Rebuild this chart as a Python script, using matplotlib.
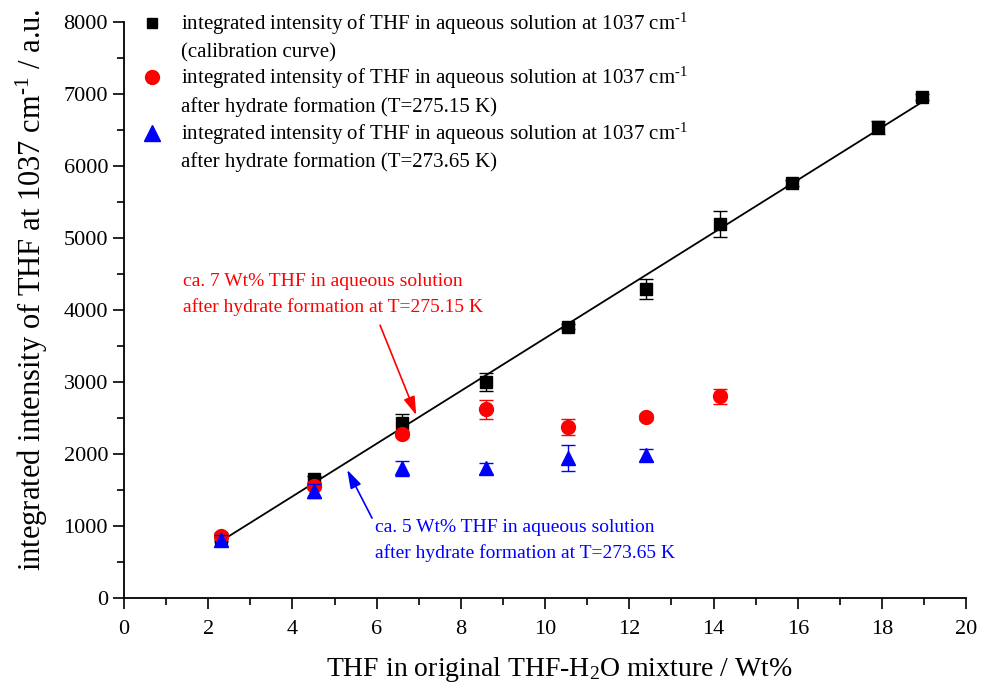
import numpy as np
import matplotlib
matplotlib.use("Agg")
import matplotlib.pyplot as plt
from matplotlib.ticker import MultipleLocator
from matplotlib.lines import Line2D
from matplotlib.legend_handler import HandlerLine2D

plt.rcParams['font.family'] = ['Liberation Serif', 'DejaVu Serif']
plt.rcParams['mathtext.fontset'] = 'custom'
plt.rcParams['mathtext.rm'] = 'Liberation Serif'
plt.rcParams['mathtext.it'] = 'Liberation Serif:italic'

# THF content of the original mixture (Wt%)
thf_wt = [2.3, 4.5, 6.6, 8.6, 10.55, 12.4, 14.15, 15.85, 17.9, 18.95]

# calibration curve
calib = [830, 1650, 2430, 3000, 3770, 4290, 5190, 5760, 6540, 6960]
calib_err = [40, 50, 130, 120, 40, 140, 180, 40, 90, 40]

# after hydrate formation, T=275.15 K
thf_wt_275 = [2.3, 4.5, 6.6, 8.6, 10.55, 12.4, 14.15]
hyd_275 = [860, 1560, 2280, 2620, 2370, 2510, 2800]
hyd_275_err = [40, 50, 40, 130, 110, 40, 100]

# after hydrate formation, T=273.65 K
thf_wt_273 = [2.3, 4.5, 6.6, 8.6, 10.55, 12.4]
hyd_273 = [800, 1490, 1800, 1800, 1940, 1990]
hyd_273_err = [80, 100, 100, 80, 180, 80]

sup = r'$^{\text{-1}}$'
lab = 'integrated intensity of THF in aqueous solution at 1037 cm' + sup


class FirstLineHandler(HandlerLine2D):
    # put the legend marker next to the first line of a two-line label
    def create_artists(self, legend, orig_handle, xdescent, ydescent,
                       width, height, fontsize, trans):
        arts = super().create_artists(legend, orig_handle, xdescent, ydescent,
                                      width, height, fontsize, trans)
        for a in arts:
            a.set_ydata(np.asarray(a.get_ydata()) + 0.65 * fontsize)
        return arts


fig = plt.figure(figsize=(9.84, 6.91), dpi=100)
ax = fig.add_axes([0.126, 0.1346, 0.856, 0.8334])

# linear fit of the calibration points
coef = np.polyfit(thf_wt, calib, 1)
xf = np.array([thf_wt[0], thf_wt[-1]])
ax.plot(xf, np.polyval(coef, xf), color='black', lw=1.3, zorder=2)

ax.errorbar(thf_wt, calib, yerr=calib_err, fmt='s', color='black', ms=9,
            capsize=5, elinewidth=1, capthick=1, zorder=3)
ax.errorbar(thf_wt_275, hyd_275, yerr=hyd_275_err, fmt='o', color='red', ms=10,
            capsize=5, elinewidth=1, capthick=1, zorder=4)
ax.errorbar(thf_wt_273, hyd_273, yerr=hyd_273_err, fmt='^', color='blue', ms=10,
            capsize=5, elinewidth=1, capthick=1, zorder=5)

ax.text(1.4, 4220, 'ca. 7 Wt% THF in aqueous solution\nafter hydrate formation at T=275.15 K',
        color='red', fontsize=14, va='center', ha='left', linespacing=1.6)
ax.annotate('', xy=(6.94, 2540), xytext=(6.08, 3790),
            arrowprops=dict(arrowstyle='-|>,head_length=0.8,head_width=0.25',
                            color='red', lw=1.2, shrinkA=0, shrinkB=0,
                            mutation_scale=14))

ax.text(5.96, 800, 'ca. 5 Wt% THF in aqueous solution\nafter hydrate formation at T=273.65 K',
        color='blue', fontsize=14, va='center', ha='left', linespacing=1.6)
ax.annotate('', xy=(5.30, 1780), xytext=(5.89, 1110),
            arrowprops=dict(arrowstyle='-|>,head_length=0.8,head_width=0.25',
                            color='blue', lw=1.2, shrinkA=0, shrinkB=0,
                            mutation_scale=14))

ax.set_xlim(0, 20)
ax.set_ylim(0, 8000)
ax.xaxis.set_major_locator(MultipleLocator(2))
ax.xaxis.set_minor_locator(MultipleLocator(1))
ax.yaxis.set_major_locator(MultipleLocator(1000))
ax.yaxis.set_minor_locator(MultipleLocator(500))
ax.tick_params(axis='both', which='both', direction='out', labelsize=16)
ax.tick_params(axis='x', which='both', pad=8)
ax.tick_params(which='major', length=8, width=1.2)
ax.tick_params(which='minor', length=5, width=1.2)
for s in ['top', 'right']:
    ax.spines[s].set_visible(False)
for s in ['left', 'bottom']:
    ax.spines[s].set_linewidth(1.3)

ax.set_xlabel('THF in original THF-H$_2$O mixture / Wt%', fontsize=20)
ax.set_ylabel('integrated intensity of THF at 1037 cm' + sup + ' / a.u.', fontsize=22)
ax.xaxis.set_label_coords(0.517, -0.099)
ax.yaxis.set_label_coords(-0.088, 0.535)

handles = [Line2D([], [], ls='none', marker='s', color='black', ms=7.5),
           Line2D([], [], ls='none', marker='o', color='red', ms=10),
           Line2D([], [], ls='none', marker='^', color='blue', ms=11)]
labels = [lab + '\n(calibration curve)',
          lab + '\nafter hydrate formation (T=275.15 K)',
          lab + '\nafter hydrate formation (T=273.65 K)']
leg = ax.legend(handles, labels, loc='upper left', bbox_to_anchor=(0.008, 1.034),
                frameon=False, fontsize=15, handletextpad=0.8, labelspacing=0.15,
                handlelength=1.2, borderaxespad=0,
                handler_map={Line2D: FirstLineHandler()})
for t in leg.get_texts():
    t.set_linespacing(1.4)

fig.savefig('out.png', dpi=100)
